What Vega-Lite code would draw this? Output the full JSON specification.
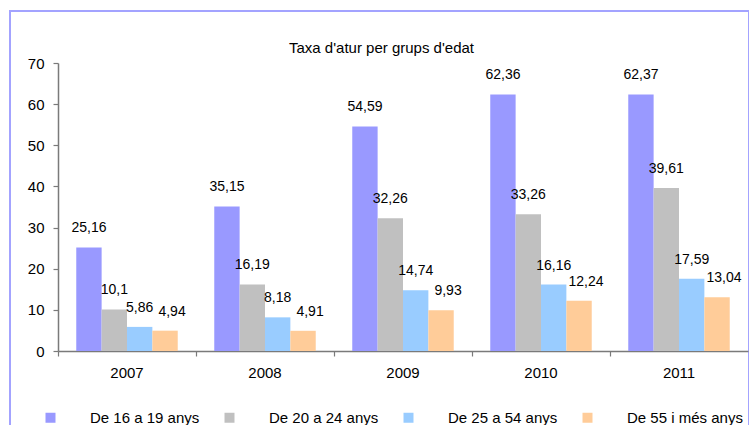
{
  "$schema": "https://vega.github.io/schema/vega-lite/v6.json",
  "width": 739,
  "height": 420,
  "autosize": {"type": "none"},
  "padding": {"left": 10, "top": 11, "right": 0, "bottom": 0},
  "background": "white",
  "title": {
    "text": "Taxa d'atur per grups d'edat",
    "frame": "group",
    "anchor": "middle",
    "orient": "top",
    "offset": -57,
    "baseline": "alphabetic",
    "dx": 2,
    "font": "Liberation Sans",
    "fontSize": 15,
    "fontWeight": "normal",
    "color": "#000000"
  },
  "config": {
    "locale": {"number": {"decimal": ",", "thousands": ".", "grouping": [3], "currency": ["", " €"]}},
    "view": {"stroke": "#a3a3ff", "strokeWidth": 2},
    "axis": {"grid": false, "title": null, "labelFont": "Liberation Sans", "labelFontSize": 15, "labelColor": "#000000", "domainColor": "#7a7a7a", "tickColor": "#7a7a7a", "tickSize": 5, "domainWidth": 1.5, "tickWidth": 1.2},
    "legend": {"labelFont": "Liberation Sans", "labelFontSize": 15, "labelColor": "#000000"},
    "text": {"font": "Liberation Sans"}
  },
  "data": {
    "values": [
      {"year": "2007", "group": "De 16 a 19 anys", "value": 25.16},
      {"year": "2007", "group": "De 20 a 24 anys", "value": 10.1},
      {"year": "2007", "group": "De 25 a 54 anys", "value": 5.86},
      {"year": "2007", "group": "De 55 i més anys", "value": 4.94},
      {"year": "2008", "group": "De 16 a 19 anys", "value": 35.15},
      {"year": "2008", "group": "De 20 a 24 anys", "value": 16.19},
      {"year": "2008", "group": "De 25 a 54 anys", "value": 8.18},
      {"year": "2008", "group": "De 55 i més anys", "value": 4.91},
      {"year": "2009", "group": "De 16 a 19 anys", "value": 54.59},
      {"year": "2009", "group": "De 20 a 24 anys", "value": 32.26},
      {"year": "2009", "group": "De 25 a 54 anys", "value": 14.74},
      {"year": "2009", "group": "De 55 i més anys", "value": 9.93},
      {"year": "2010", "group": "De 16 a 19 anys", "value": 62.36},
      {"year": "2010", "group": "De 20 a 24 anys", "value": 33.26},
      {"year": "2010", "group": "De 25 a 54 anys", "value": 16.16},
      {"year": "2010", "group": "De 55 i més anys", "value": 12.24},
      {"year": "2011", "group": "De 16 a 19 anys", "value": 62.37},
      {"year": "2011", "group": "De 20 a 24 anys", "value": 39.61},
      {"year": "2011", "group": "De 25 a 54 anys", "value": 17.59},
      {"year": "2011", "group": "De 55 i més anys", "value": 13.04}
    ]
  },
  "encoding": {
    "x": {
      "field": "year",
      "type": "nominal",
      "scale": {"range": [48, 738], "paddingInner": 0, "paddingOuter": 0},
      "axis": {"orient": "bottom", "offset": -80, "labelAngle": 0, "bandPosition": 0, "labelOffset": 0, "labelPadding": 9}
    },
    "xOffset": {
      "field": "group",
      "type": "nominal",
      "scale": {"domain": ["De 16 a 19 anys", "De 20 a 24 anys", "De 25 a 54 anys", "De 55 i més anys"], "paddingInner": 0, "paddingOuter": 0.72}
    },
    "y": {
      "field": "value",
      "type": "quantitative",
      "scale": {"domain": [0, 70], "range": [340, 52], "nice": false, "zero": true},
      "axis": {"orient": "left", "offset": -48, "values": [0, 10, 20, 30, 40, 50, 60, 70], "labelPadding": 9}
    }
  },
  "layer": [
    {
      "mark": {"type": "bar"},
      "encoding": {
        "color": {
          "field": "group",
          "type": "nominal",
          "scale": {
            "domain": ["De 16 a 19 anys", "De 20 a 24 anys", "De 25 a 54 anys", "De 55 i més anys"],
            "range": ["#9999ff", "#c0c0c0", "#99ccff", "#ffcc99"]
          },
          "legend": {
            "title": null,
            "orient": "none",
            "legendX": 33,
            "legendY": 399,
            "direction": "horizontal",
            "columns": 4,
            "symbolType": "square",
            "symbolSize": 100,
            "symbolStrokeWidth": 0,
            "labelOffset": 32,
            "columnPadding": 22,
            "labelLimit": 300
          }
        }
      }
    },
    {
      "transform": [{"filter": "datum.group != 'De 55 i més anys'"}],
      "mark": {"type": "text", "dy": -15, "baseline": "alphabetic", "fontSize": 14, "color": "#000000"},
      "encoding": {
        "text": {"field": "value", "type": "quantitative", "format": ".2~f"}
      }
    },
    {
      "transform": [{"filter": "datum.group == 'De 55 i més anys'"}],
      "mark": {"type": "text", "dy": -15, "dx": 7, "baseline": "alphabetic", "fontSize": 14, "color": "#000000"},
      "encoding": {
        "text": {"field": "value", "type": "quantitative", "format": ".2~f"}
      }
    }
  ]
}
